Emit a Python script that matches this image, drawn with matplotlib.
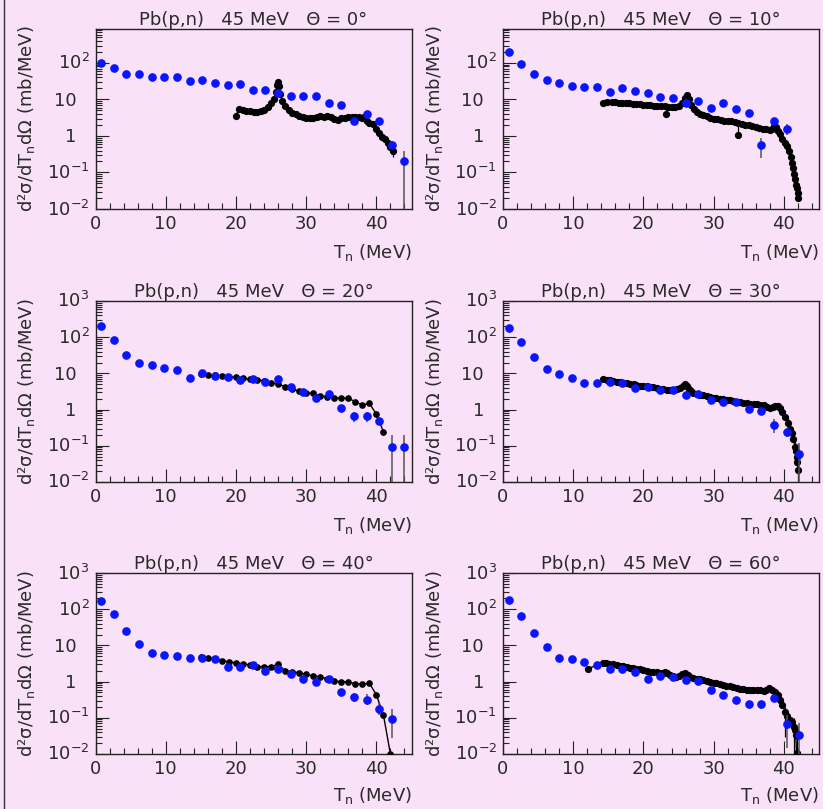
import numpy as np
import matplotlib
matplotlib.use("Agg")
import matplotlib.pyplot as plt
from matplotlib import transforms
from matplotlib.ticker import FixedLocator, MultipleLocator, LogLocator, NullFormatter

plt.rcParams['font.family'] = ['DejaVu Sans']
plt.rcParams['mathtext.fontset'] = 'dejavusans'

BG = '#f9e1f7'
TXT = '#2a2a2a'
BLUE = '#0a14ff'

# neutron energy bins of the blue data (MeV)
bin_x = [0.8, 2.6, 4.4, 6.2, 8.0, 9.8, 11.6, 13.4, 15.2, 17.0, 18.8, 20.6, 22.4,
         24.2, 26.0, 27.8, 29.6, 31.4, 33.2, 35.0, 36.8, 38.6, 40.4, 42.2, 44.0]

# ---- Theta = 0
b00_y = [102, 74, 50, 50, 40, 41, 40, 32, 34, 29, 24.5, 26.6, 18.2, 18.2, 14.8,
         12.3, 12.5, 12.5, 7.9, 7.2, 2.6, 3.9, 2.5, 0.57, 0.2]
b00_err = [(42.2, 0.45, 0.75), (44.0, 0.001, 0.39)]
c00_x = [20.0, 20.4, 21.0, 21.5, 22.0, 22.5, 23.0, 23.5, 24.0, 24.5, 25.0, 25.4,
         25.7, 25.9, 26.0, 26.1, 26.3, 26.6, 27.0, 27.5, 28.0, 28.5, 29.0, 29.5,
         30.0, 30.5, 31.0, 31.5, 32.0, 32.5, 33.0, 33.5, 34.0, 34.5, 35.0, 35.5,
         36.0, 36.5, 37.0, 37.5, 38.0, 38.3, 38.6, 39.0, 39.5, 40.0, 40.4, 40.8,
         41.2, 41.6, 42.0, 42.3]
c00_y = [3.6, 5.4, 5.2, 4.9, 4.7, 4.4, 4.4, 4.8, 5.2, 6.3, 7.8, 10.5,
         16, 25, 31, 24, 14, 9.0, 6.5, 5.0, 4.3, 3.9, 3.6, 3.4,
         3.2, 3.1, 3.2, 3.4, 3.5, 3.4, 3.5, 3.3, 2.9, 2.8, 3.1, 3.2,
         3.3, 3.4, 3.3, 3.4, 3.2, 3.3, 2.6, 2.3, 2.1, 1.6, 1.2, 0.95,
         0.85, 0.65, 0.5, 0.4]
c00_err = [(41.6, 0.45, 0.85), (42.3, 0.27, 0.5)]

# ---- Theta = 10
b10_y = [204, 94, 50, 34, 27.8, 23.9, 22.4, 22.4, 16.4, 20.3, 17.1, 14.8, 11.9,
         11.2, 8.2, 9.1, 5.7, 7.9, 5.5, 4.2, 0.57, 2.6, 1.53]
b10_err = [(36.8, 0.245, 0.87), (40.4, 1.06, 2.1)]
c10_x = [14.3, 14.8, 15.5, 16.0, 16.5, 17.0, 17.5, 18.0, 18.5, 19.0, 19.5, 20.0,
         20.5, 21.0, 21.5, 22.0, 22.5, 23.0, 23.5, 24.0, 24.5, 25.0, 25.5, 25.9,
         26.2, 26.5, 26.8, 27.2, 27.6, 28.0, 28.5, 29.0, 29.5, 30.0, 30.5, 31.0,
         31.5, 32.0, 32.5, 33.0, 33.5, 34.0, 34.5, 35.0, 35.5, 36.0, 36.5, 37.0,
         37.5, 38.0, 38.3, 38.6, 38.9, 39.2, 39.5, 39.8, 40.1, 40.4, 40.7, 40.95,
         41.15, 41.3, 41.45, 41.55, 41.7, 41.8, 41.95, 42.05]
c10_y = [8.0, 8.3, 8.3, 8.3, 8.2, 8.1, 8.0, 7.9, 7.7, 7.5, 7.3, 7.2,
         7.0, 6.9, 6.8, 6.7, 6.6, 6.5, 6.4, 6.4, 6.4, 6.7, 8.0, 11,
         13.3, 10, 7.0, 5.4, 4.6, 4.1, 3.8, 3.5, 3.2, 3.0, 2.9, 2.75,
         2.65, 2.6, 2.5, 2.45, 2.3, 2.15, 2.05, 1.95, 1.85, 1.75, 1.68, 1.6,
         1.53, 1.48, 1.6, 1.9, 1.75, 1.4, 1.1, 0.85, 0.65, 0.52, 0.38, 0.27,
         0.18, 0.13, 0.09, 0.065, 0.045, 0.037, 0.027, 0.0196]
c10_out_x = [23.2, 33.5]
c10_out_y = [4.0, 1.06]
c10_err = [(23.2, 4.0, 6.4), (33.5, 1.06, 2.3)]

# ---- Theta = 20
b20_y = [204, 84, 32, 19, 17, 14.4, 12.4, 7.3, 10.1, 8.5, 8.1, 6.6, 7.0, 5.9,
         6.9, 4.1, 3.0, 2.1, 2.75, 1.13, 0.67, 0.67, 0.48, 0.094, 0.094]
b20_err = [(35.0, 0.9, 1.35), (36.8, 0.45, 0.85), (38.6, 0.45, 0.85),
           (40.4, 0.38, 0.6), (42.2, 0.001, 0.2), (44.0, 0.001, 0.2)]
c20_x = [15, 16, 17, 18, 19, 20, 21, 22, 23, 24, 25, 26, 27, 28, 29, 30, 31, 32,
         33, 34, 35, 36, 37, 38, 39, 40, 41]
c20_y = [9.6, 9.0, 8.9, 8.5, 8.1, 7.8, 7.3, 6.9, 6.6, 6.3, 5.5, 5.1, 4.3, 3.6,
         3.3, 2.9, 2.8, 2.4, 2.3, 2.1, 2.05, 2.05, 1.66, 1.34, 1.5, 0.74, 0.245]
c20_err = [(40, 0.62, 0.88), (41, 0.2, 0.3)]

# ---- Theta = 30
b30_y = [183, 75, 28, 13.5, 9.4, 7.6, 5.4, 5.4, 5.9, 5.5, 3.9, 4.2, 3.5, 3.4,
         2.6, 2.75, 1.8, 1.6, 1.6, 1.02, 0.91, 0.38, 0.24, 0.059]
b30_err = [(36.8, 0.75, 1.1), (38.6, 0.22, 0.55), (40.4, 0.18, 0.3),
           (42.2, 0.001, 0.12)]
c30_x = [14.3, 14.8, 15.2, 15.7, 16.2, 16.7, 17.1, 17.6, 18.1, 18.6, 19.0, 19.5,
         20.0, 20.5, 20.9, 21.4, 21.9, 22.4, 22.8, 23.3, 23.8, 24.3, 24.8, 25.2,
         25.6, 25.9, 26.2, 26.5, 26.8, 27.1, 27.6, 28.0, 28.5, 29.0, 29.5, 30.0,
         30.4, 30.9, 31.4, 31.9, 32.3, 32.8, 33.3, 33.8, 34.2, 34.7, 35.2, 35.7,
         36.1, 36.6, 37.1, 37.6, 38.0, 38.4, 38.8, 39.1, 39.5, 39.8, 40.2, 40.6,
         40.9, 41.1, 41.35, 41.6, 41.7, 41.8, 41.9, 42.05]
c30_y = [7.0, 6.7, 6.4, 6.1, 5.9, 5.7, 5.6, 5.4, 5.2, 5.0, 4.8, 4.6,
         4.5, 4.4, 4.3, 4.1, 3.9, 3.75, 3.6, 3.55, 3.5, 3.5, 3.6, 3.9,
         4.5, 5.0, 4.4, 3.7, 3.2, 2.9, 2.7, 2.6, 2.5, 2.35, 2.25, 2.15,
         2.1, 2.0, 1.95, 1.9, 1.84, 1.75, 1.65, 1.58, 1.55, 1.5, 1.47, 1.45,
         1.43, 1.38, 1.34, 1.2, 1.08, 1.2, 1.28, 1.22, 1.08, 0.85, 0.64, 0.42,
         0.3, 0.22, 0.15, 0.095, 0.07, 0.05, 0.035, 0.021]
c30_err = [(40.6, 0.2, 0.6), (41.6, 0.03, 0.16), (42.05, 0.01, 0.05)]

# ---- Theta = 40
b40_y = [172, 74, 25, 11.1, 6.3, 5.4, 5.1, 4.4, 4.4, 4.1, 2.6, 2.6, 2.9, 2.0,
         2.2, 1.6, 1.18, 0.99, 1.16, 0.51, 0.37, 0.32, 0.18, 0.091]
b40_err = [(35.0, 0.4, 0.62), (36.8, 0.27, 0.48), (38.6, 0.22, 0.45),
           (40.4, 0.12, 0.26), (42.2, 0.028, 0.17)]
c40_x = [15, 16, 17, 18, 19, 20, 21, 22, 23, 24, 25, 26, 27, 28, 29, 30, 31, 32,
         33, 34, 35, 36, 37, 38, 39, 40, 41, 42]
c40_y = [4.9, 4.5, 4.1, 3.8, 3.5, 3.3, 3.1, 2.9, 2.6, 2.6, 2.6, 3.0, 2.0, 1.88,
         1.76, 1.59, 1.43, 1.37, 1.18, 1.04, 0.99, 0.99, 0.86, 0.86, 0.9, 0.43,
         0.12, 0.01]

# ---- Theta = 60
b60_y = [176, 66, 22.4, 9.0, 4.5, 4.2, 3.5, 2.9, 2.2, 2.2, 1.88, 1.18, 1.43,
         1.37, 1.09, 1.06, 0.58, 0.43, 0.31, 0.24, 0.24, 0.35, 0.069, 0.034]
b60_err = [(33.2, 0.24, 0.38), (35.0, 0.17, 0.3), (36.8, 0.17, 0.3),
           (40.4, 0.015, 0.12), (42.2, 0.008, 0.07)]
c60_x = [12.15, 14.3, 14.7, 15.1, 15.6, 16.2, 16.7, 17.1, 17.6, 18.1, 18.5, 19.0,
         19.5, 20.0, 20.5, 20.9, 21.4, 21.9, 22.4, 22.8, 23.1, 23.4, 23.8, 24.2,
         24.7, 25.1, 25.5, 25.9, 26.3, 26.7, 27.1, 27.6, 28.0, 28.5, 29.0, 29.5,
         30.0, 30.4, 30.9, 31.4, 31.8, 32.3, 32.8, 33.3, 33.7, 34.2, 34.7, 35.2,
         35.6, 36.1, 36.6, 37.1, 37.5, 37.9, 38.3, 38.7, 39.1, 39.5, 39.8, 40.2,
         40.5, 40.9, 41.1, 41.4, 41.55, 41.7, 41.8]
c60_y = [2.3, 3.3, 3.2, 3.1, 3.0, 2.9, 2.75, 2.65, 2.55, 2.45, 2.4, 2.3,
         2.2, 2.1, 1.95, 1.88, 1.85, 1.8, 1.77, 1.76, 1.9, 1.7, 1.55, 1.45,
         1.37, 1.4, 1.6, 1.76, 1.5, 1.3, 1.23, 1.18, 1.15, 1.1, 1.02, 0.97,
         0.93, 0.9, 0.85, 0.8, 0.78, 0.76, 0.71, 0.66, 0.63, 0.61, 0.6, 0.6,
         0.6, 0.59, 0.58, 0.56, 0.6, 0.65, 0.6, 0.53, 0.42, 0.31, 0.22, 0.148,
         0.11, 0.087, 0.075, 0.057, 0.045, 0.033, 0.0105]
c60_err = [(40.2, 0.03, 0.2), (41.4, 0.01, 0.1), (41.8, 0.005, 0.03)]

angles = [0, 10, 20, 30, 40, 60]
blue_y = [b00_y, b10_y, b20_y, b30_y, b40_y, b60_y]
blue_err = [b00_err, b10_err, b20_err, b30_err, b40_err, b60_err]
black_x = [c00_x, c10_x, c20_x, c30_x, c40_x, c60_x]
black_y = [c00_y, c10_y, c20_y, c30_y, c40_y, c60_y]
black_err = [c00_err, c10_err, c20_err, c30_err, [], c60_err]
dense = [True, True, False, True, False, True]

W, H = 823, 809
col_x = [95.5, 503]
col_w = 316
row_top = [29, 301, 573]
row_h = [180, 181, 181]
ytops = [850, 1000, 1000]
xlab_drop = [33, 33, 31]   # px from axis bottom to top of the x title box

fig = plt.figure(figsize=(W / 100, H / 100), dpi=100)
fig.patch.set_facecolor(BG)

for i, ang in enumerate(angles):
    r, c = divmod(i, 2)
    ax = fig.add_axes([col_x[c] / W, 1 - (row_top[r] + row_h[r]) / H,
                       col_w / W, row_h[r] / H])
    ax.set_facecolor(BG)
    ax.set_yscale('log')
    ax.set_xlim(0, 45)
    ax.set_ylim(0.01, ytops[r])

    # black spectrum
    ms = 4.2 if dense[i] else 3.8
    ax.plot(black_x[i], black_y[i], '-', color='black', lw=1.0,
            marker='o', ms=ms, mec='black', mfc='black', zorder=3)
    for ex, lo, hi in black_err[i]:
        ax.vlines(ex, lo, hi, color='black', lw=0.9, zorder=3)
    if i == 1:
        ax.plot(c10_out_x, c10_out_y, 'o', color='black', ms=4.2, zorder=3)

    # blue points
    by = blue_y[i]
    for ex, lo, hi in blue_err[i]:
        ax.vlines(ex, lo, hi, color='#555555', lw=1.1, zorder=4)
    ax.plot(bin_x[:len(by)], by, 'o', color=BLUE, ms=5.2, mec=BLUE, zorder=5)

    # axes styling
    for s in ax.spines.values():
        s.set_color('#222222')
        s.set_linewidth(1.0)
    ax.xaxis.set_major_locator(FixedLocator([0, 10, 20, 30, 40]))
    ax.xaxis.set_minor_locator(MultipleLocator(2))
    ax.yaxis.set_major_locator(LogLocator(base=10, numticks=10))
    ax.yaxis.set_minor_locator(LogLocator(base=10, subs=np.arange(2, 10), numticks=10))
    ax.yaxis.set_major_formatter(NullFormatter())
    ax.yaxis.set_minor_formatter(NullFormatter())
    ax.tick_params(which='both', direction='in', top=False, right=False,
                   color='#222222', width=0.8)
    ax.tick_params(which='major', length=9.5)
    ax.tick_params(which='minor', length=4.3)
    ax.tick_params(axis='x', labelsize=13, labelcolor=TXT, pad=4.5)

    # decade labels
    exps = [-2, -1, 0, 1, 2] + ([3] if ytops[r] >= 1000 else [])
    for e in exps:
        if e == 0:
            txt, dx = '1', -19
        elif e == 1:
            txt, dx = '10', -19
        else:
            txt, dx = r'$10^{%d}$' % e, -6
        tr = transforms.offset_copy(ax.get_yaxis_transform(), fig=fig,
                                    x=dx, y=-6.5, units='dots')
        ax.text(0, 10.0 ** e, txt, transform=tr, ha='right', va='baseline',
                fontsize=13, color=TXT)

    ax.set_title('Pb(p,n)   45 MeV   \u0398 = %d\u00b0' % ang, fontsize=13,
                 color=TXT, pad=1)
    ax.set_xlabel('T$_\\mathrm{n}$ (MeV)', fontsize=13, color=TXT, loc='right')
    ax.xaxis.set_label_coords(1.0, -xlab_drop[r] / row_h[r])
    ax.set_ylabel('d\u00b2\u03c3/dT$_\\mathrm{n}$d\u03a9 (mb/MeV)', fontsize=13,
                  color=TXT)
    ax.yaxis.set_label_coords(-58 / col_w, 0.5)

fig.add_artist(plt.Line2D([3.5 / W, 3.5 / W], [0, 1], transform=fig.transFigure,
                          color='#333333', lw=1.0))

fig.savefig('out.png', dpi=100, facecolor=BG)
